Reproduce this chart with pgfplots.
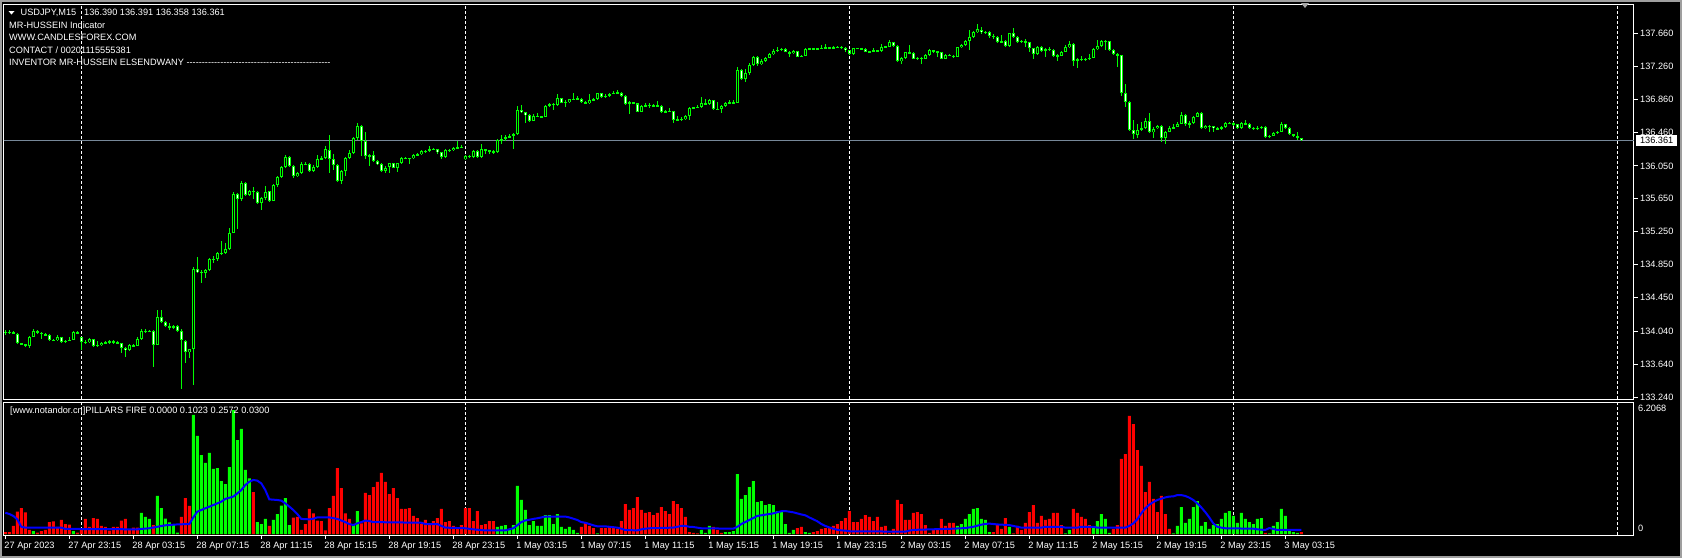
\documentclass[border=0pt]{standalone}
\usepackage{fontspec}
\setmainfont{Liberation Sans}
\usepackage{pgfplots}
\usepackage{pgfplotstable}
\pgfplotsset{compat=1.18}
\definecolor{mtgreen}{RGB}{0,255,0}
\definecolor{mtred}{RGB}{255,0,0}
\definecolor{mtblue}{RGB}{0,0,255}
\definecolor{bidgray}{RGB}{119,136,153}
\newcommand{\mtfont}{\fontsize{9.2}{11}\selectfont}
\newcommand{\hy}{-\kern0pt}
\newcommand{\hyten}{\hy\hy\hy\hy\hy\hy\hy\hy\hy\hy}

\pgfplotstableread{
x o h l c
0 134.030 134.060 133.990 134.026
1 134.026 134.050 134.010 134.026
2 134.026 134.040 134.000 134.018
3 134.006 134.020 133.880 133.892
4 133.892 133.900 133.870 133.884
5 133.884 133.890 133.850 133.864
6 133.864 133.980 133.840 133.974
7 133.974 134.070 133.970 134.038
8 134.038 134.050 134.010 134.022
9 134.022 134.030 133.950 134.006
10 134.006 134.020 133.980 133.990
11 133.990 134.000 133.920 133.933
12 133.933 133.950 133.920 133.933
13 133.933 133.990 133.920 133.965
14 133.965 133.970 133.900 133.913
15 133.913 133.940 133.900 133.925
16 133.925 133.970 133.920 133.933
17 133.933 134.040 133.930 134.030
18 134.030 134.040 134.000 134.006
19 133.965 133.970 133.811 133.913
20 133.913 133.930 133.890 133.905
21 133.905 133.960 133.900 133.941
22 133.941 133.950 133.850 133.864
23 133.864 133.920 133.850 133.872
24 133.872 133.910 133.860 133.901
25 133.901 133.920 133.890 133.901
26 133.901 133.930 133.890 133.917
27 133.917 133.930 133.890 133.905
28 133.905 133.920 133.880 133.892
29 133.892 133.900 133.780 133.840
30 133.840 133.850 133.730 133.811
31 133.811 133.880 133.800 133.868
32 133.868 133.890 133.850 133.864
33 133.864 133.970 133.860 133.941
34 133.941 134.070 133.940 134.042
35 134.042 134.070 134.020 134.042
36 134.042 134.060 134.030 134.042
37 134.038 134.050 133.609 133.876
38 133.876 134.298 133.870 134.209
39 134.209 134.298 134.140 134.156
40 134.156 134.170 134.090 134.107
41 134.107 134.140 134.060 134.087
42 134.087 134.120 134.070 134.103
43 134.103 134.120 134.030 134.046
44 134.046 134.070 133.333 133.933
45 133.920 133.930 133.649 133.791
46 133.791 133.830 133.710 133.819
47 133.819 134.820 133.386 134.792
48 134.792 134.946 134.750 134.764
49 134.764 134.780 134.630 134.752
50 134.752 134.800 134.683 134.784
51 134.784 134.930 134.770 134.914
52 134.914 134.960 134.870 134.922
53 134.922 135.007 134.900 134.987
54 134.987 135.137 134.970 134.987
55 134.987 135.108 134.980 135.035
56 135.035 135.299 135.030 135.230
57 135.230 135.736 135.230 135.704
58 135.704 135.720 135.278 135.643
59 135.643 135.866 135.630 135.838
60 135.838 135.850 135.680 135.692
61 135.692 135.760 135.680 135.740
62 135.740 135.789 135.643 135.740
63 135.740 135.750 135.590 135.603
64 135.603 135.670 135.513 135.655
65 135.655 135.805 135.640 135.740
66 135.740 135.750 135.610 135.627
67 135.627 135.830 135.620 135.813
68 135.813 135.930 135.800 135.911
69 135.911 136.050 135.900 136.032
70 136.032 136.182 136.020 136.154
71 136.154 136.170 136.040 136.052
72 136.052 136.060 135.905 135.931
73 135.931 135.980 135.920 135.959
74 135.959 136.100 135.950 136.069
75 136.069 136.100 136.060 136.073
76 136.073 136.080 135.980 135.992
77 135.992 136.060 135.980 136.040
78 136.040 136.180 136.030 136.130
79 136.130 136.170 136.120 136.142
80 136.142 136.292 136.130 136.251
81 136.243 136.425 135.967 136.130
82 136.130 136.200 136.000 136.061
83 136.061 136.070 135.850 135.866
84 135.866 136.000 135.830 135.988
85 135.988 136.160 135.927 136.142
86 136.142 136.243 136.130 136.202
87 136.202 136.400 136.190 136.385
88 136.385 136.575 136.370 136.535
89 136.535 136.550 136.170 136.356
90 136.356 136.461 136.130 136.174
91 136.174 136.190 136.048 136.178
92 136.178 136.227 136.100 136.109
93 136.109 136.120 136.060 136.073
94 136.073 136.080 135.980 135.992
95 135.992 136.050 135.959 136.032
96 136.032 136.090 135.967 136.081
97 136.081 136.090 136.020 136.028
98 136.028 136.090 135.979 136.081
99 136.081 136.160 136.070 136.142
100 136.142 136.160 136.130 136.142
101 136.142 136.150 136.070 136.142
102 136.142 136.190 136.130 136.178
103 136.178 136.210 136.170 136.190
104 136.190 136.240 136.180 136.227
105 136.227 136.250 136.210 136.231
106 136.231 136.292 136.220 136.255
107 136.255 136.270 136.240 136.251
108 136.251 136.260 136.200 136.215
109 136.215 136.220 136.140 136.154
110 136.154 136.250 136.150 136.239
111 136.239 136.260 136.220 136.239
112 136.239 136.280 136.230 136.267
113 136.267 136.356 136.260 136.275
114 136.275 136.308 136.270 136.275
115 136.130 136.180 136.120 136.170
116 136.170 136.180 136.150 136.162
117 136.162 136.240 136.150 136.227
118 136.227 136.240 136.140 136.154
119 136.154 136.316 136.150 136.251
120 136.251 136.260 136.200 136.243
121 136.243 136.250 136.195 136.231
122 136.231 136.240 136.200 136.215
123 136.215 136.380 136.210 136.365
124 136.365 136.425 136.316 136.373
125 136.373 136.433 136.360 136.397
126 136.397 136.437 136.390 136.413
127 136.413 136.450 136.251 136.437
128 136.437 136.778 136.430 136.729
129 136.729 136.790 136.690 136.701
130 136.701 136.710 136.575 136.668
131 136.668 136.680 136.580 136.595
132 136.595 136.680 136.590 136.656
133 136.656 136.689 136.640 136.648
134 136.648 136.660 136.630 136.648
135 136.648 136.790 136.640 136.782
136 136.782 136.820 136.770 136.802
137 136.802 136.810 136.729 136.794
138 136.794 136.924 136.780 136.871
139 136.871 136.880 136.810 136.818
140 136.818 136.850 136.770 136.831
141 136.831 136.870 136.820 136.859
142 136.859 136.940 136.850 136.867
143 136.867 136.900 136.850 136.867
144 136.867 136.880 136.820 136.831
145 136.831 136.840 136.800 136.810
146 136.810 136.924 136.800 136.851
147 136.851 136.870 136.840 136.859
148 136.859 136.940 136.850 136.932
149 136.932 136.940 136.880 136.891
150 136.891 136.920 136.880 136.900
151 136.900 136.940 136.890 136.924
152 136.924 136.964 136.920 136.940
153 136.940 136.972 136.930 136.940
154 136.940 136.950 136.890 136.900
155 136.900 136.910 136.790 136.798
156 136.798 136.840 136.677 136.822
157 136.822 136.830 136.800 136.810
158 136.810 136.820 136.700 136.709
159 136.709 136.790 136.700 136.778
160 136.778 136.810 136.770 136.790
161 136.790 136.820 136.760 136.790
162 136.790 136.800 136.770 136.778
163 136.778 136.840 136.770 136.782
164 136.782 136.790 136.690 136.709
165 136.709 136.730 136.690 136.709
166 136.709 136.750 136.700 136.717
167 136.717 136.720 136.575 136.608
168 136.608 136.656 136.600 136.616
169 136.616 136.640 136.600 136.620
170 136.620 136.670 136.610 136.656
171 136.656 136.760 136.608 136.750
172 136.750 136.770 136.740 136.758
173 136.758 136.790 136.750 136.766
174 136.766 136.887 136.760 136.810
175 136.810 136.863 136.790 136.798
176 136.798 136.863 136.790 136.847
177 136.847 136.850 136.730 136.737
178 136.737 136.822 136.730 136.741
179 136.741 136.790 136.697 136.782
180 136.782 136.830 136.770 136.814
181 136.814 136.847 136.800 136.818
182 136.818 136.851 136.810 136.818
183 136.818 137.248 136.810 137.216
184 137.216 137.230 137.090 137.102
185 137.102 137.228 137.074 137.175
186 137.175 137.305 137.160 137.276
187 137.276 137.390 137.260 137.374
188 137.374 137.380 137.270 137.285
189 137.285 137.350 137.280 137.329
190 137.329 137.380 137.320 137.366
191 137.366 137.420 137.360 137.406
192 137.406 137.470 137.400 137.451
193 137.451 137.491 137.440 137.463
194 137.463 137.480 137.450 137.471
195 137.471 137.480 137.430 137.438
196 137.438 137.450 137.370 137.418
197 137.418 137.460 137.410 137.447
198 137.447 137.450 137.370 137.378
199 137.378 137.400 137.370 137.390
200 137.390 137.480 137.380 137.471
201 137.471 137.490 137.460 137.479
202 137.479 137.490 137.460 137.475
203 137.475 137.490 137.460 137.479
204 137.479 137.520 137.470 137.487
205 137.487 137.536 137.470 137.487
206 137.487 137.500 137.470 137.491
207 137.491 137.510 137.470 137.487
208 137.487 137.510 137.480 137.495
209 137.495 137.510 137.470 137.487
210 137.487 137.500 137.440 137.455
211 137.455 137.460 137.400 137.406
212 137.406 137.490 137.400 137.479
213 137.479 137.490 137.470 137.479
214 137.479 137.490 137.460 137.471
215 137.471 137.480 137.430 137.438
216 137.438 137.450 137.420 137.438
217 137.438 137.479 137.430 137.455
218 137.455 137.460 137.440 137.447
219 137.447 137.528 137.440 137.495
220 137.495 137.510 137.480 137.499
221 137.499 137.584 137.490 137.552
222 137.552 137.560 137.500 137.511
223 137.511 137.520 137.320 137.329
224 137.329 137.370 137.285 137.357
225 137.357 137.440 137.350 137.430
226 137.430 137.520 137.410 137.426
227 137.426 137.430 137.350 137.357
228 137.357 137.370 137.340 137.357
229 137.357 137.370 137.290 137.357
230 137.357 137.410 137.350 137.398
231 137.398 137.470 137.390 137.459
232 137.459 137.460 137.420 137.438
233 137.438 137.450 137.370 137.438
234 137.438 137.440 137.350 137.357
235 137.357 137.410 137.350 137.398
236 137.398 137.410 137.380 137.390
237 137.390 137.400 137.360 137.378
238 137.378 137.500 137.370 137.495
239 137.495 137.530 137.490 137.520
240 137.520 137.580 137.510 137.568
241 137.568 137.702 137.459 137.613
242 137.613 137.690 137.600 137.682
243 137.682 137.771 137.670 137.710
244 137.710 137.742 137.660 137.674
245 137.674 137.690 137.660 137.682
246 137.682 137.690 137.610 137.633
247 137.633 137.661 137.592 137.617
248 137.617 137.630 137.540 137.552
249 137.552 137.641 137.540 137.572
250 137.572 137.580 137.500 137.511
251 137.511 137.670 137.500 137.661
252 137.661 137.722 137.610 137.621
253 137.621 137.630 137.550 137.560
254 137.560 137.580 137.550 137.568
255 137.568 137.590 137.500 137.552
256 137.552 137.560 137.430 137.479
257 137.479 137.490 137.357 137.414
258 137.414 137.510 137.400 137.499
259 137.499 137.510 137.440 137.451
260 137.451 137.480 137.378 137.471
261 137.471 137.500 137.450 137.463
262 137.463 137.470 137.380 137.390
263 137.390 137.410 137.329 137.390
264 137.390 137.450 137.380 137.438
265 137.438 137.520 137.430 137.491
266 137.491 137.568 137.480 137.528
267 137.528 137.540 137.268 137.329
268 137.329 137.360 137.244 137.349
269 137.349 137.382 137.330 137.345
270 137.345 137.360 137.330 137.349
271 137.349 137.406 137.340 137.366
272 137.366 137.480 137.360 137.467
273 137.467 137.580 137.460 137.507
274 137.507 137.580 137.500 137.568
275 137.568 137.580 137.455 137.568
276 137.568 137.570 137.450 137.463
277 137.463 137.470 137.400 137.410
278 137.410 137.420 137.256 137.398
279 137.398 137.400 136.904 136.940
280 136.940 137.041 136.770 136.831
281 136.831 136.840 136.480 136.490
282 136.490 136.604 136.377 136.433
283 136.433 136.555 136.393 136.482
284 136.482 136.579 136.470 136.506
285 136.506 136.628 136.500 136.596
286 136.596 136.693 136.450 136.458
287 136.458 136.520 136.393 136.506
288 136.506 136.547 136.500 136.539
289 136.539 136.550 136.344 136.385
290 136.385 136.480 136.312 136.466
291 136.466 136.539 136.460 136.506
292 136.506 136.555 136.500 136.527
293 136.527 136.580 136.520 136.563
294 136.563 136.701 136.560 136.668
295 136.668 136.685 136.540 136.555
296 136.555 136.590 136.506 136.571
297 136.571 136.660 136.560 136.648
298 136.648 136.710 136.640 136.693
299 136.693 136.700 136.500 136.514
300 136.514 136.550 136.498 136.539
301 136.539 136.550 136.466 136.531
302 136.531 136.540 136.458 136.506
303 136.506 136.520 136.490 136.498
304 136.498 136.530 136.490 136.519
305 136.519 136.580 136.510 136.567
306 136.567 136.580 136.560 136.571
307 136.571 136.580 136.540 136.555
308 136.555 136.560 136.500 136.506
309 136.506 136.580 136.500 136.567
310 136.567 136.604 136.550 136.563
311 136.563 136.570 136.500 136.514
312 136.514 136.520 136.490 136.498
313 136.498 136.539 136.490 136.514
314 136.514 136.530 136.500 136.522
315 136.522 136.530 136.390 136.401
316 136.401 136.430 136.385 136.417
317 136.417 136.460 136.410 136.450
318 136.450 136.480 136.440 136.466
319 136.466 136.579 136.460 136.555
320 136.555 136.560 136.500 136.514
321 136.514 136.520 136.420 136.433
322 136.433 136.440 136.400 136.409
323 136.409 136.458 136.370 136.385
324 136.390 136.391 136.358 136.361
}\price

\pgfplotstableread{
x r g
0 0.09 0
1 0.09 0
2 0.38 0
3 1.05 0
4 1.22 0
5 1.02 0
6 0.19 0
7 0 0.14
8 0.06 0
9 0.13 0
10 0.19 0
11 0.56 0
12 0.60 0
13 0.34 0
14 0.66 0
15 0.47 0
16 0.44 0
17 0 0.14
18 0.06 0
19 0.19 0
20 0.71 0
21 0.34 0
22 0.75 0
23 0.71 0
24 0.38 0
25 0.34 0
26 0.16 0
27 0.33 0
28 0.33 0
29 0.63 0
30 0.71 0
31 0.22 0
32 0.30 0
33 0.30 0
34 0 0.99
35 0 0.80
36 0 0.71
37 0.42 0
38 0 1.79
39 0 1.22
40 0 0.72
41 0 0.55
42 0 0.42
43 0 0.06
44 0.80 0
45 1.69 0
46 1.32 0
47 0 5.60
48 0 4.62
49 0 3.71
50 0 3.35
51 0 3.81
52 0 3.06
53 0 3.10
54 0 2.49
55 0 2.35
56 0 3.15
57 0 5.83
58 0 4.42
59 0 4.94
60 0 3.01
61 0 2.62
62 1.97 0
63 0 0.56
64 0 0.47
65 0 0.71
66 0.38 0
67 0 0.66
68 0 0.94
69 0 1.33
70 0 1.69
71 0 0.42
72 0.77 0
73 0.80 0
74 0.20 0
75 0.47 0
76 1.18 0
77 0.97 0
78 0.63 0
79 0.61 0
80 0.17 0
81 1.22 0
82 1.79 0
83 3.10 0
84 2.16 0
85 0.97 0
86 0.71 0
87 0 0.42
88 0 1.08
89 0.50 0
90 1.93 0
91 1.83 0
92 2.21 0
93 2.45 0
94 2.87 0
95 2.45 0
96 1.88 0
97 2.16 0
98 1.69 0
99 1.18 0
100 1.18 0
101 1.22 0
102 0.85 0
103 0.75 0
104 0.47 0
105 0.66 0
106 0.42 0
107 0.61 0
108 0.75 0
109 1.18 0
110 0.56 0
111 0.61 0
112 0.38 0
113 0.28 0
114 0.42 0
115 1.22 0
116 1.22 0
117 0.61 0
118 1.08 0
119 0.42 0
120 0.47 0
121 0.61 0
122 0.61 0
123 0 0.33
124 0 0.38
125 0 0.42
126 0 0.24
127 0 0.42
128 0 2.26
129 0 1.60
130 0 1.13
131 0 0.42
132 0 0.61
133 0 0.38
134 0 0.38
135 0 0.89
136 0 0.89
137 0 0.47
138 0 0.94
139 0 0.33
140 0 0.24
141 0 0.33
142 0 0.19
143 0 0.05
144 0.33 0
145 0.52 0
146 0.38 0
147 0.28 0
148 0 0.03
149 0.28 0
150 0.28 0
151 0.33 0
152 0.28 0
153 0.24 0
154 0.61 0
155 1.41 0
156 1.13 0
157 1.22 0
158 1.74 0
159 1.13 0
160 0.99 0
161 1.03 0
162 0.89 0
163 0.99 0
164 1.27 0
165 1.08 0
166 0.94 0
167 1.55 0
168 1.41 0
169 1.22 0
170 0.80 0
171 0.09 0
172 0.05 0
173 0.03 0
174 0 0.19
175 0 0.05
176 0 0.38
177 0.33 0
178 0.19 0
179 0.05 0
180 0 0.09
181 0 0.09
182 0 0.14
183 0 2.82
184 0 1.65
185 0 1.83
186 0 2.21
187 0 2.49
188 0 1.50
189 0 1.55
190 0 1.36
191 0 1.41
192 0 1.36
193 0 1.08
194 0 1.03
195 0 0.47
196 0 0.05
197 0 0.19
198 0.28 0
199 0.33 0
200 0 0.09
201 0 0.05
202 0.09 0
203 0.14 0
204 0.24 0
205 0.28 0
206 0.28 0
207 0.38 0
208 0.47 0
209 0.61 0
210 0.75 0
211 1.08 0
212 0.56 0
213 0.56 0
214 0.71 0
215 0.89 0
216 0.80 0
217 0.61 0
218 0.80 0
219 0.33 0
220 0.38 0
221 0.05 0
222 0.24 0
223 1.60 0
224 1.41 0
225 0.66 0
226 0.66 0
227 0.99 0
228 1.03 0
229 0.94 0
230 0.42 0
231 0.05 0
232 0.19 0
233 0.19 0
234 0.71 0
235 0.38 0
236 0.52 0
237 0.52 0
238 0 0.38
239 0 0.47
240 0 0.71
241 0 0.94
242 0 1.18
243 0 1.22
244 0 0.71
245 0 0.66
246 0 0.09
247 0.09 0
248 0.42 0
249 0.24 0
250 0.75 0
251 0 0.33
252 0.03 0
253 0.38 0
254 0.19 0
255 0.52 0
256 1.03 0
257 1.36 0
258 0.52 0
259 0.85 0
260 0.66 0
261 0.71 0
262 0.99 0
263 0.99 0
264 0.42 0
265 0 0.03
266 0 0.19
267 1.18 0
268 0.99 0
269 0.80 0
270 0.71 0
271 0.42 0
272 0 0.28
273 0 0.61
274 0 0.94
275 0 0.71
276 0 0.05
277 0.24 0
278 0.42 0
279 3.53 0
280 3.76 0
281 5.55 0
282 5.17 0
283 3.95 0
284 3.20 0
285 1.97 0
286 2.45 0
287 1.65 0
288 1.03 0
289 1.79 0
290 0.94 0
291 0.24 0
292 0 0.03
293 0 0.38
294 0 1.27
295 0 0.52
296 0 0.71
297 0 1.27
298 0 1.55
299 0 0.38
300 0 0.56
301 0 0.24
302 0 0.42
303 0 0.47
304 0 0.71
305 0 0.99
306 0 1.08
307 0 0.85
308 0 0.52
309 0 0.99
310 0 0.71
311 0 0.56
312 0 0.47
313 0 0.71
314 0 0.75
315 0.05 0
316 0 0.03
317 0 0.38
318 0 0.56
319 0 1.18
320 0 0.85
321 0 0.14
322 0 0.09
323 0 0.05
324 0.09 0
}\ind

\begin{document}
\begin{tikzpicture}[x=1pt,y=1pt]
\fill[black] (0pt,0pt) rectangle (1682pt,-558pt);
\useasboundingbox (0pt,0pt) rectangle (1682pt,-558pt);
\draw[gray!75, line width=2pt] (1pt,-1pt) rectangle (1681pt,-557pt);

% ---------- price panel ----------
\begin{axis}[
  at={(4pt,-399pt)}, anchor=south west,
  scale only axis, width=1630pt, height=395pt,
  xmin=-0.325, xmax=407.175, ymin=133.2157, ymax=138.0181,
  axis line style={white, line width=1pt},
  xtick=\empty,
  ytick={133.24,133.64,134.04,134.45,134.85,135.25,135.65,136.05,136.46,136.86,137.26,137.66},
  yticklabels={133.240,133.640,134.040,134.450,134.850,135.250,135.650,136.050,136.460,136.860,137.260,137.660},
  ytick pos=right, yticklabel pos=right,
  tick align=outside, major tick length=4pt,
  tick style={white, line width=1pt},
  yticklabel style={font=\mtfont, text=white, anchor=west, inner sep=0pt, xshift=2pt},
]
\pgfplotsinvokeforeach{19,115,211,307,403}{
  \draw[white, line width=1pt, dash pattern=on 3pt off 2pt] (axis cs:#1,133.2157) -- (axis cs:#1,138.0181);
}
\draw[bidgray, line width=1pt] (axis cs:-1,136.361) -- (axis cs:408,136.361);
\coordinate (bid) at (axis cs:407.175,136.361);
% wicks
\addplot[draw=none, mark=none, forget plot,
  error bars/.cd, y dir=both, y explicit, error mark=none,
  error bar style={draw=mtgreen, line width=1pt}]
  table[x=x, y expr={(\thisrow{h}+\thisrow{l})/2}, y error expr={(\thisrow{h}-\thisrow{l})/2}] {\price};
% bodies
\addplot[draw=none, mark=none, forget plot,
  error bars/.cd, y dir=both, y explicit, error mark=none,
  error bar style={draw=mtgreen, line width=3pt}]
  table[x=x, y expr={(\thisrow{o}+\thisrow{c})/2}, y error expr={max(abs(\thisrow{c}-\thisrow{o})/2,0.0061)}] {\price};
% bull interiors (black)
\addplot[draw=none, mark=none, forget plot,
  error bars/.cd, y dir=both, y explicit, error mark=none,
  error bar style={draw=black, line width=1pt}]
  table[x=x, y expr={(\thisrow{o}+\thisrow{c})/2}, y error expr={(\thisrow{c}>\thisrow{o})*max(abs(\thisrow{c}-\thisrow{o})/2-0.0122,0)}] {\price};
% bear interiors (white)
\addplot[draw=none, mark=none, forget plot,
  error bars/.cd, y dir=both, y explicit, error mark=none,
  error bar style={draw=white, line width=1pt}]
  table[x=x, y expr={(\thisrow{o}+\thisrow{c})/2}, y error expr={(\thisrow{c}<\thisrow{o})*max(abs(\thisrow{c}-\thisrow{o})/2-0.0122,0)}] {\price};
\end{axis}
\node[fill=white, text=black, font=\mtfont, anchor=west, inner sep=0pt, minimum height=11pt, minimum width=41pt] at ([xshift=2pt]bid) {136.361};

% ---------- indicator panel ----------
\begin{axis}[
  at={(4pt,-535pt)}, anchor=south west,
  scale only axis, width=1630pt, height=133pt,
  xmin=-0.325, xmax=407.175, ymin=-0.047, ymax=6.2068,
  axis line style={white, line width=1pt},
  ytick=\empty,
  xtick={0,16,...,320},
  xticklabels={27 Apr 2023,27 Apr 23:15,28 Apr 03:15,28 Apr 07:15,28 Apr 11:15,28 Apr 15:15,28 Apr 19:15,28 Apr 23:15,1 May 03:15,1 May 07:15,1 May 11:15,1 May 15:15,1 May 19:15,1 May 23:15,2 May 03:15,2 May 07:15,2 May 11:15,2 May 15:15,2 May 19:15,2 May 23:15,3 May 03:15},
  xtick pos=bottom, xticklabel pos=bottom,
  tick align=outside, major tick length=4pt,
  tick style={white, line width=1pt},
  xticklabel style={font=\mtfont, text=white, anchor=north west, inner sep=0pt, xshift=-1pt, yshift=-2.5pt},
]
\pgfplotsinvokeforeach{19,115,211,307,403}{
  \draw[white, line width=1pt, dash pattern=on 3pt off 2pt] (axis cs:#1,-0.047) -- (axis cs:#1,6.2068);
}
\addplot[ybar, bar width=3pt, bar shift=0pt, fill=mtred, draw=none, forget plot] table[x=x, y=r] {\ind};
\addplot[ybar, bar width=3pt, bar shift=0pt, fill=mtgreen, draw=none, forget plot] table[x=x, y=g] {\ind};
\addplot[mtblue, line width=2pt, mark=none, forget plot] coordinates {
(0,1.00) (1,0.94) (2,0.85) (3,0.69) (4,0.34) (5,0.30) (14,0.30) (15,0.24) (33,0.22) (36,0.27) (38,0.34) (40,0.41) (43,0.45) (46,0.47)
(47,0.78) (48,1.05) (50,1.21) (52,1.36) (54,1.52) (55,1.65) (57,1.76) (58,1.91) (59,2.07) (60,2.30) (61,2.46) (62,2.54) (63,2.51) (64,2.38) (65,2.07)
(66,1.63) (68,1.60) (69,1.57) (70,1.44) (71,1.29) (72,1.13) (73,0.94) (74,0.71) (76,0.69) (77,0.72) (78,0.78) (81,0.78) (83,0.71) (85,0.56) (86,0.47)
(87,0.42) (88,0.50) (89,0.56) (90,0.63) (91,0.61) (92,0.56) (104,0.53) (105,0.47) (108,0.47) (109,0.38) (110,0.30) (115,0.27) (117,0.22) (120,0.17)
(125,0.17) (126,0.22) (127,0.27) (128,0.41) (129,0.56) (130,0.64) (131,0.67) (132,0.71) (133,0.74) (134,0.78) (135,0.82) (140,0.82) (141,0.78)
(142,0.72) (143,0.66) (144,0.56) (145,0.53) (146,0.47) (147,0.41) (148,0.36) (150,0.36) (153,0.30) (154,0.25) (155,0.19) (158,0.17) (159,0.22)
(160,0.25) (161,0.27) (167,0.30) (168,0.34) (169,0.38) (170,0.38) (171,0.34) (172,0.33) (173,0.30) (174,0.27) (182,0.25) (183,0.34) (184,0.47)
(185,0.56) (186,0.66) (187,0.75) (188,0.85) (189,0.88) (190,0.91) (191,0.94) (192,0.97) (193,1.02) (194,1.07) (195,1.08) (196,1.05) (197,1.02)
(198,0.97) (199,0.92) (200,0.88) (201,0.78) (202,0.69) (203,0.60) (204,0.47) (205,0.38) (206,0.31) (207,0.25) (208,0.20) (209,0.17) (210,0.16)
(211,0.13) (225,0.11) (226,0.16) (227,0.19) (228,0.20) (237,0.25) (240,0.28) (241,0.31) (242,0.34) (243,0.39) (244,0.44) (245,0.47) (246,0.49)
(248,0.45) (251,0.42) (252,0.38) (253,0.34) (254,0.30) (259,0.30) (260,0.34) (264,0.34) (265,0.30) (268,0.30) (269,0.34) (272,0.34) (273,0.30)
(280,0.30) (281,0.38) (282,0.50) (283,0.69) (284,0.97) (285,1.21) (286,1.38) (287,1.50) (288,1.60) (289,1.66) (290,1.72) (291,1.76) (292,1.77)
(293,1.83) (294,1.83) (295,1.79) (296,1.71) (297,1.60) (298,1.44) (299,1.25) (300,1.03) (301,0.78) (302,0.50) (303,0.34) (304,0.30) (305,0.27)
(312,0.25) (313,0.22) (315,0.19) (316,0.28) (317,0.24) (318,0.19) (324,0.19)
};
\coordinate (indtop) at (axis cs:407.175,6.2068);
\coordinate (indbot) at (axis cs:407.175,0);
\end{axis}
\node[font=\mtfont, text=white, anchor=north west, inner sep=0pt] at ([xshift=4pt,yshift=-3pt]indtop) {6.2068};
\node[font=\mtfont, text=white, anchor=south west, inner sep=0pt] at ([xshift=4pt,yshift=2pt]indbot) {0};

% ---------- texts ----------
\fill[white] (8.5pt,-11pt) -- (14.5pt,-11pt) -- (11.5pt,-14.5pt) -- cycle;
\fill[gray!70] (1301pt,-3pt) -- (1309pt,-3pt) -- (1305pt,-8pt) -- cycle;
\begin{scope}[every node/.style={font=\mtfont, text=white, anchor=west, inner sep=0pt}]
\node at (20.5pt,-12.7pt) {USDJPY,M15};
\node at (84pt,-12.7pt) {136.390 136.391 136.358 136.361};
\node at (9pt,-25.3pt) {MR-HUSSEIN Indicator};
\node at (9pt,-37.5pt) {WWW.CANDLESFOREX.COM};
\node at (9pt,-49.8pt) {CONTACT / 00201115555381};
\node at (9pt,-62pt) {INVENTOR MR-HUSSEIN ELSENDWANY \hyten\hyten\hyten\hyten\hy\hy\hy\hy\hy\hy\hy};
\node at (10pt,-410.7pt) {[www.notandor.cn]PILLARS FIRE 0.0000 0.1023 0.2572 0.0300};
\end{scope}
\end{tikzpicture}
\end{document}
